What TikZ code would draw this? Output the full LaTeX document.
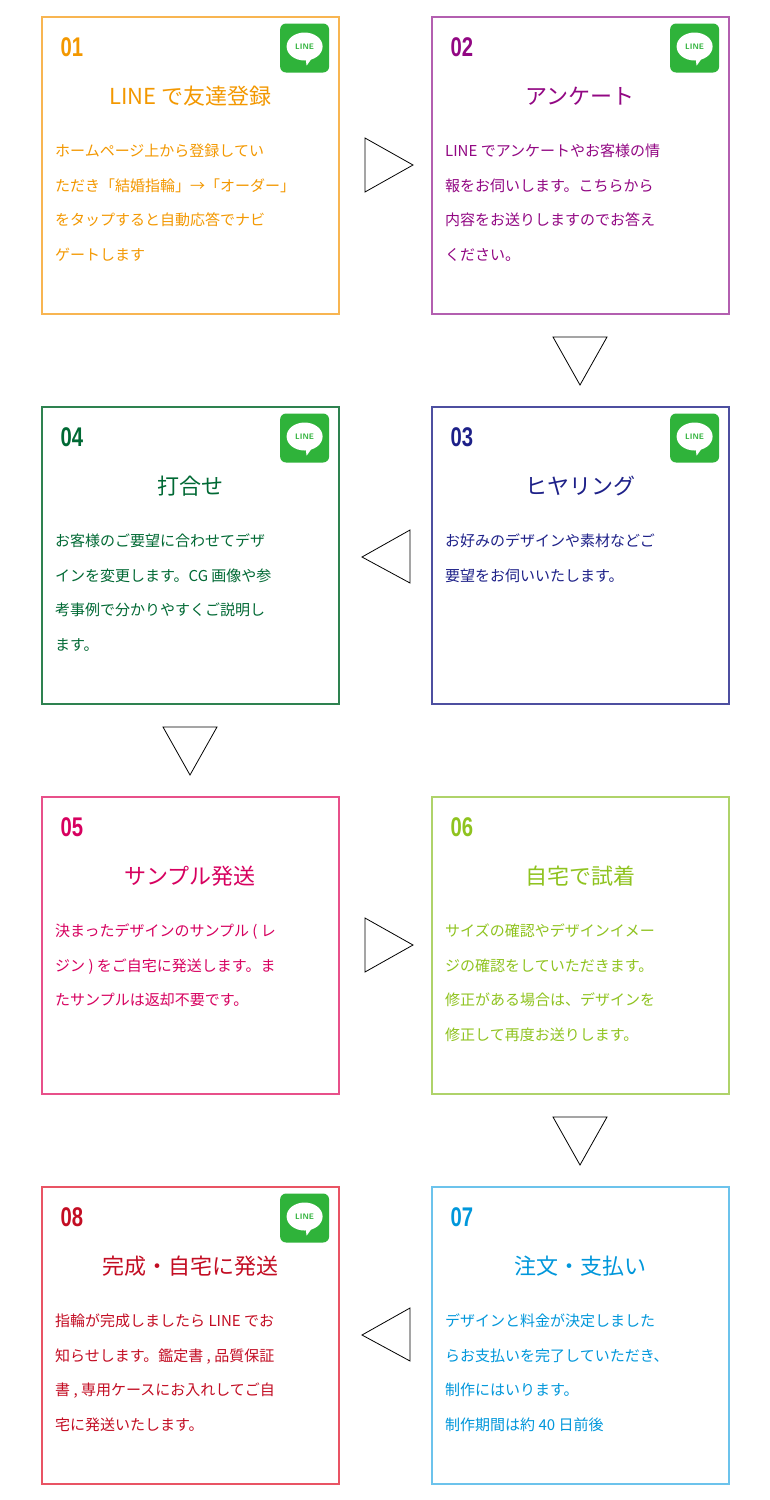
\documentclass[tikz,border=0pt]{standalone}
\usepackage{fontspec}
\setmainfont{Noto Sans CJK JP}
\newfontfamily\numfont{Liberation Sans}[FakeStretch=0.75]
\definecolor{c1}{HTML}{F39800}\definecolor{b1}{HTML}{F8B551}
\definecolor{c2}{HTML}{920783}\definecolor{b2}{HTML}{B35FB0}
\definecolor{c3}{HTML}{1D2088}\definecolor{b3}{HTML}{4D4FA0}
\definecolor{c4}{HTML}{006934}\definecolor{b4}{HTML}{2E8250}
\definecolor{c5}{HTML}{D7005F}\definecolor{b5}{HTML}{E8508A}
\definecolor{c6}{HTML}{8FC31F}\definecolor{b6}{HTML}{AFD36A}
\definecolor{c7}{HTML}{0097DB}\definecolor{b7}{HTML}{6CC3EC}
\definecolor{c8}{HTML}{C30D23}\definecolor{b8}{HTML}{E95464}
\definecolor{lineg}{HTML}{2FB33A}
\usetikzlibrary{calc,shapes.geometric}
\tikzset{tri/.style={draw=black,line width=0.8pt,fill=white}}
\newcommand{\stepcard}[8]{%
 \node[draw=#3,line width=1.6pt,minimum width=297pt,minimum height=297pt,anchor=north west,inner sep=0] (box#5) at (#1,#2) {};
 \node[anchor=west,text=#4,font=\numfont\bfseries\fontsize{27}{27}\selectfont] (num#5) at ($(box#5.north west)+(16,31)$) {#5};
 \node[text=#4,font=\fontsize{22}{24}\selectfont] (tit#5) at ($(box#5.north)+(0,80)$) {#6};
 \node[anchor=north west,text=#4,align=left,inner sep=0,font=\fontsize{15}{34.5}\selectfont] (txt#5) at ($(box#5.north west)+(14,128)$) {#7};
 \ifx#8y
 \node[fill=lineg,rounded corners=6pt,minimum size=49pt,inner sep=0] (ic#5) at ($(box#5.north east)+(-35,32)$) {};
 \node[fill=white,ellipse,minimum width=36pt,minimum height=28pt,inner sep=0,font=\sffamily\bfseries\fontsize{8}{8}\selectfont,text=lineg] (bub#5) at ($(ic#5.center)+(0,-1.5)$) {LINE};
 \fill[white] ($(bub#5.south)+(1,-2)$) -- ($(bub#5.south)+(2,5)$) -- ($(bub#5.south)+(7,-2)$) -- cycle;
 \fi}
\begin{document}
\begin{tikzpicture}[x=1pt,y=-1pt]
\useasboundingbox[fill=white] (0,0) rectangle (770,1500);
\stepcard{41}{16}{b1}{c1}{01}{LINE で友達登録}{ホームページ上から登録してい\\ただき「結婚指輪」→「オーダー」\\をタップすると自動応答でナビ\\ゲートします}{y}
\stepcard{431}{16}{b2}{c2}{02}{アンケート}{LINE でアンケートやお客様の情\\報をお伺いします。こちらから\\内容をお送りしますのでお答え\\ください。}{y}
\stepcard{431}{406}{b3}{c3}{03}{ヒヤリング}{お好みのデザインや素材などご\\要望をお伺いいたします。}{y}
\stepcard{41}{406}{b4}{c4}{04}{打合せ}{お客様のご要望に合わせてデザ\\インを変更します。CG 画像や参\\考事例で分かりやすくご説明し\\ます。}{y}
\stepcard{41}{796}{b5}{c5}{05}{サンプル発送}{決まったデザインのサンプル ( レ\\ジン ) をご自宅に発送します。ま\\たサンプルは返却不要です。}{n}
\stepcard{431}{796}{b6}{c6}{06}{自宅で試着}{サイズの確認やデザインイメー\\ジの確認をしていただきます。\\修正がある場合は、デザインを\\修正して再度お送りします。}{n}
\stepcard{431}{1186}{b7}{c7}{07}{注文・支払い}{デザインと料金が決定しました\\らお支払いを完了していただき、\\制作にはいります。\\制作期間は約 40 日前後}{n}
\stepcard{41}{1186}{b8}{c8}{08}{完成・自宅に発送}{指輪が完成しましたら LINE でお\\知らせします。鑑定書 , 品質保証\\書 , 専用ケースにお入れしてご自\\宅に発送いたします。}{y}
\draw[tri] (365,138) -- (413,165) -- (365,192) -- cycle;
\draw[tri] (553,337) -- (607,337) -- (580,385) -- cycle;
\draw[tri] (410,530) -- (362,557) -- (410,583) -- cycle;
\draw[tri] (163,727) -- (217,727) -- (190,775) -- cycle;
\draw[tri] (365,918) -- (413,945) -- (365,972) -- cycle;
\draw[tri] (553,1117) -- (607,1117) -- (580,1165) -- cycle;
\draw[tri] (410,1308) -- (362,1335) -- (410,1361) -- cycle;
\end{tikzpicture}
\end{document}
